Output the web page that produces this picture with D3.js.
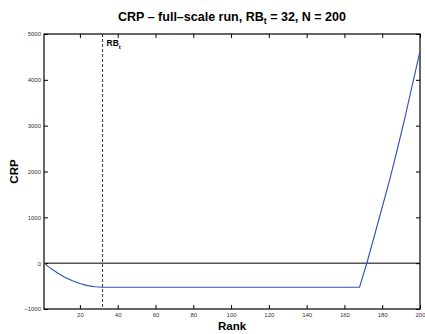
<!DOCTYPE html>
<html>
<head>
<meta charset="utf-8">
<script src="https://d3js.org/d3.v7.min.js"></script>
<style>
  body { margin: 0; background: #fff; }
  text { font-family: "Liberation Sans", Arial, sans-serif; }
  .tick text { font-size: 6px; fill: #333; }
  .tick line { stroke: #000; }
</style>
</head>
<body>
<svg id="chart" width="425" height="334"></svg>
<script>
// values
var rank = [1, 4, 8, 12, 16, 20, 24, 28, 32, 168, 172, 176, 180, 184, 188, 192, 196, 200];
var crp  = [0, -97, -210, -305, -385, -445, -490, -515, -525, -525, 20, 620, 1220, 1830, 2480, 3170, 3900, 4620];
var xTicks = [20, 40, 60, 80, 100, 120, 140, 160, 180, 200];
var yTicks = [-1000, 0, 1000, 2000, 3000, 4000, 5000];
var rbT = 32;

var svg = d3.select("#chart");
var margin = {top: 34, right: 5, bottom: 25, left: 44},
    width = 425 - margin.left - margin.right,
    height = 334 - margin.top - margin.bottom;

var g = svg.append("g").attr("transform", "translate(" + margin.left + "," + margin.top + ")");

var x = d3.scaleLinear().domain([1, 200]).range([0, width]);
var y = d3.scaleLinear().domain([-1000, 5000]).range([height, 0]);

var fmt = function(d) { return d < 0 ? "\u2212" + Math.abs(d) : String(d); };

// axes with inward ticks, MATLAB-style box
g.append("g")
    .attr("transform", "translate(0," + height + ")")
    .call(d3.axisBottom(x).tickValues(xTicks).tickSize(-4).tickPadding(4).tickFormat(fmt))
    .call(function(s) { s.select(".domain").remove(); });
g.append("g")
    .call(d3.axisTop(x).tickValues(xTicks).tickSize(-4).tickFormat(""))
    .call(function(s) { s.select(".domain").remove(); });
g.append("g")
    .call(d3.axisLeft(y).tickValues(yTicks).tickSize(-4).tickPadding(3).tickFormat(fmt))
    .call(function(s) { s.select(".domain").remove(); });
g.append("g")
    .attr("transform", "translate(" + width + ",0)")
    .call(d3.axisRight(y).tickValues(yTicks).tickSize(-4).tickFormat(""))
    .call(function(s) { s.select(".domain").remove(); });

g.append("rect")
    .attr("width", width).attr("height", height)
    .attr("fill", "none").attr("stroke", "#000").attr("stroke-width", 1.2);

// zero line
g.append("line")
    .attr("x1", 0).attr("x2", width)
    .attr("y1", y(0)).attr("y2", y(0))
    .attr("stroke", "#000").attr("stroke-width", 1);

// RB_t dashed line
g.append("line")
    .attr("x1", x(rbT)).attr("x2", x(rbT))
    .attr("y1", 0).attr("y2", height)
    .attr("stroke", "#333").attr("stroke-width", 1)
    .attr("stroke-dasharray", "3,2");

var rb = g.append("text")
    .attr("x", x(rbT) + 4).attr("y", 12)
    .attr("font-size", 8.5).attr("font-weight", "bold");
rb.append("tspan").text("RB");
rb.append("tspan").attr("dy", 3).attr("font-size", 6).text("t");

// CRP curve
var line = d3.line()
    .x(function(d, i) { return x(rank[i]); })
    .y(function(d) { return y(d); });

g.append("path")
    .datum(crp)
    .attr("d", line)
    .attr("fill", "none")
    .attr("stroke", "#2c4fb3")
    .attr("stroke-width", 1.1);

// title and labels
var title = svg.append("text")
    .attr("x", margin.left + width / 2).attr("y", 21)
    .attr("text-anchor", "middle")
    .attr("font-size", 12.5).attr("font-weight", "bold");
title.append("tspan").text("CRP \u2013 full\u2013scale run, RB");
title.append("tspan").attr("dy", 3).attr("font-size", 9).text("t");
title.append("tspan").attr("dy", -3).text(" = 32, N = 200");

svg.append("text")
    .attr("x", margin.left + width / 2).attr("y", 330)
    .attr("text-anchor", "middle")
    .attr("font-size", 11.5).attr("font-weight", "bold")
    .text("Rank");

svg.append("text")
    .attr("transform", "translate(18," + (margin.top + height / 2) + ") rotate(-90)")
    .attr("text-anchor", "middle")
    .attr("font-size", 11.5).attr("font-weight", "bold")
    .text("CRP");
</script>
</body>
</html>
